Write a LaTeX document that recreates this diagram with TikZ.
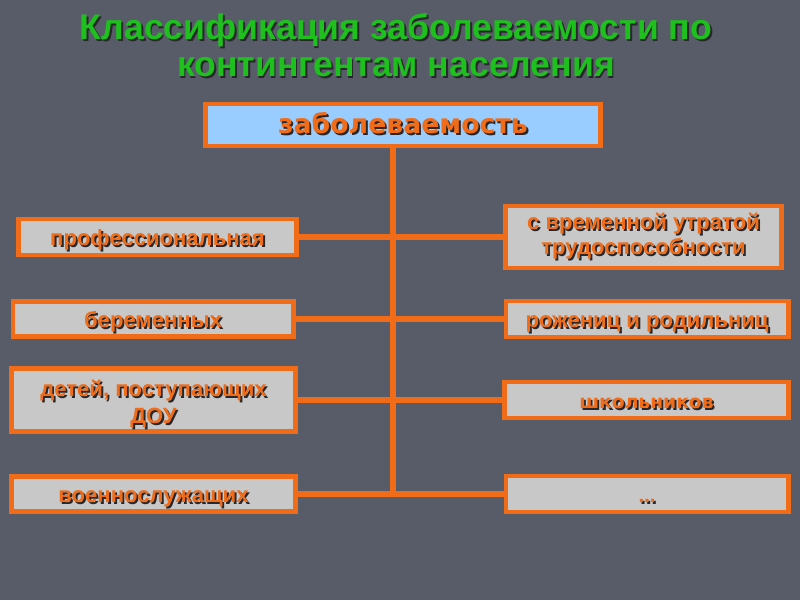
\documentclass[tikz,border=0pt]{standalone}
\usepackage{fontspec}
\setmainfont{Liberation Sans}
\newfontfamily\wideface{DejaVu Sans}
\definecolor{slate}{RGB}{88,91,104}
\definecolor{frame}{RGB}{240,108,24}
\definecolor{boxgray}{RGB}{200,200,200}
\definecolor{topblue}{RGB}{153,204,255}
\definecolor{titlegreen}{RGB}{30,192,30}
\definecolor{shadowgray}{RGB}{40,40,44}
% text with a dark drop shadow
\newcommand{\shd}[2]{\makebox[0pt][l]{\hspace{1.3pt}\raisebox{-1.3pt}{\color{shadowgray}#2}}{\color{#1}#2}}
\begin{document}
\begin{tikzpicture}[x=0.025cm, y=-0.025cm,
    box/.style={draw=frame, line width=3.5pt, fill=boxgray, inner sep=0pt, align=center,
        font=\bfseries\fontsize{15.7}{18}\selectfont},
    oneline/.style={text height=14pt, text depth=2pt},
    link/.style={draw=frame, line width=4pt}]
    % background
    \fill[slate] (0,0) rectangle (800,600);

    % title
    \node[align=center, font=\bfseries\fontsize{25.3}{26.5}\selectfont] (head) at (396,46)
        {\shd{titlegreen}{Классификация заболеваемости по}\\\shd{titlegreen}{контингентам населения}};

    % root
    \node[box, oneline, fill=topblue, minimum width=9.85cm, minimum height=1.05cm,
        font=\wideface\bfseries\fontsize{19}{21}\selectfont] (top) at (403,125) {\shd{frame}{заболеваемость}};

    % left column
    \node[box, oneline, minimum width=6.93cm, minimum height=0.9cm] (prof) at (157.5,237) {\shd{frame}{профессиональная}};
    \node[box, oneline, minimum width=7cm, minimum height=0.875cm] (preg) at (153,319) {\shd{frame}{беременных}};
    \node[box, minimum width=7.08cm, minimum height=1.58cm] (kids) at (153.5,400)
        {\rule{0pt}{19pt}\shd{frame}{детей, поступающих}\\[1pt]\shd{frame}{ДОУ}};
    \node[box, oneline, minimum width=7.08cm, minimum height=0.875cm] (mil) at (153.5,494) {\shd{frame}{военнослужащих}};

    % right column
    \node[box, minimum width=6.88cm, minimum height=1.55cm] (temp) at (643.5,237)
        {\shd{frame}{с временной утратой}\\\shd{frame}{трудоспособности}};
    \node[box, oneline, minimum width=7.05cm, minimum height=0.9cm] (birth) at (647,319) {\shd{frame}{рожениц и родильниц}};
    \node[box, oneline, minimum width=7.08cm, minimum height=0.9cm,
        font=\wideface\bfseries\fontsize{13.3}{15}\selectfont] (school) at (646.5,400) {\shd{frame}{школьников}};
    \node[box, oneline, minimum width=7.05cm, minimum height=0.9cm,
        font=\wideface\bfseries\fontsize{12}{14}\selectfont] (more) at (647,494) {\shd{frame}{…}};

    % trunk and branches
    \coordinate (bus) at (393,146);
    \draw[link] (top.south -| bus) -- (bus |- mil.east);
    \foreach \l/\r in {prof/temp, preg/birth, kids/school, mil/more}
        \draw[link] (\l.east) -- (\r.west);
\end{tikzpicture}
\end{document}
